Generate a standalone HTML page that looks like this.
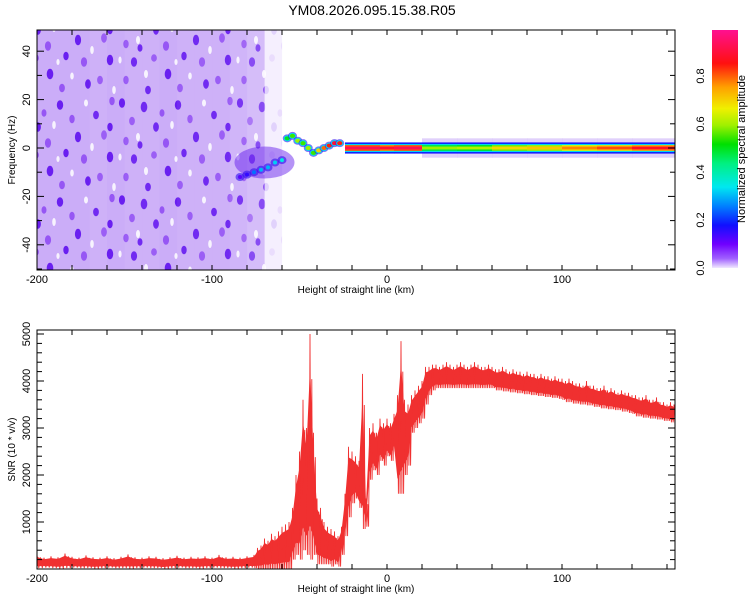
<!DOCTYPE html>
<html><head><meta charset="utf-8"><style>
body{margin:0;background:#fff;}
svg{display:block;font-family:"Liberation Sans",sans-serif;}
</style></head><body>
<svg id="fig" width="750" height="600" xmlns="http://www.w3.org/2000/svg">
<defs>
<pattern id="speck" patternUnits="userSpaceOnUse" width="118" height="97">
<rect width="118" height="97" fill="#cbadf8"/>
<g fill="#6a1ff0" stroke="#6a1ff0" stroke-width="1.4">
<ellipse cx="4" cy="6" rx="2.4" ry="4"/><ellipse cx="26" cy="10" rx="2.6" ry="4.5"/><ellipse cx="38" cy="30" rx="2.2" ry="4"/>
<ellipse cx="60" cy="8" rx="2.5" ry="4"/><ellipse cx="78" cy="40" rx="2.4" ry="4.5"/><ellipse cx="96" cy="18" rx="2.2" ry="3.5"/>
<ellipse cx="110" cy="60" rx="2.5" ry="4.5"/><ellipse cx="16" cy="62" rx="2.4" ry="4"/><ellipse cx="50" cy="74" rx="2.6" ry="4.5"/>
<ellipse cx="88" cy="84" rx="2.2" ry="4"/><ellipse cx="66" cy="56" rx="2" ry="3.5"/><ellipse cx="30" cy="90" rx="2.2" ry="3.5"/>
<ellipse cx="110" cy="30" rx="2" ry="3.5"/><ellipse cx="22" cy="48" rx="1.8" ry="3"/>
</g>
<g fill="#9656f4" stroke="#9656f4" stroke-width="1.4">
<ellipse cx="14" cy="24" rx="2.2" ry="3.5"/><ellipse cx="48" cy="46" rx="2.4" ry="4"/><ellipse cx="72" cy="22" rx="2" ry="3.5"/>
<ellipse cx="104" cy="38" rx="2.2" ry="4"/><ellipse cx="8" cy="44" rx="2" ry="3.5"/><ellipse cx="36" cy="58" rx="2.2" ry="3"/>
<ellipse cx="84" cy="62" rx="2.4" ry="4"/><ellipse cx="100" cy="80" rx="2.2" ry="3.5"/><ellipse cx="62" cy="88" rx="2.2" ry="3.5"/>
<ellipse cx="8" cy="80" rx="2" ry="3.5"/><ellipse cx="112" cy="4" rx="2" ry="3.5"/><ellipse cx="44" cy="16" rx="1.8" ry="3"/>
</g>
<g fill="#ffffff" opacity="0.85">
<ellipse cx="20" cy="40" rx="2" ry="4"/><ellipse cx="54" cy="28" rx="1.8" ry="4"/><ellipse cx="86" cy="6" rx="2" ry="3.5"/>
<ellipse cx="92" cy="50" rx="1.8" ry="4"/><ellipse cx="28" cy="74" rx="2" ry="4"/><ellipse cx="72" cy="76" rx="1.8" ry="3.5"/>
<ellipse cx="114" cy="90" rx="1.8" ry="4"/><ellipse cx="2" cy="60" rx="1.6" ry="3.5"/><ellipse cx="58" cy="62" rx="1.6" ry="3"/>
</g>
</pattern>
<linearGradient id="cmap" x1="0" y1="1" x2="0" y2="0">
<stop offset="0" stop-color="#f0e8ff"/><stop offset="0.04" stop-color="#a060ff"/>
<stop offset="0.1" stop-color="#7000ff"/><stop offset="0.18" stop-color="#1010ff"/>
<stop offset="0.26" stop-color="#0080ff"/><stop offset="0.34" stop-color="#00e8f0"/>
<stop offset="0.44" stop-color="#00f080"/><stop offset="0.52" stop-color="#00e000"/>
<stop offset="0.6" stop-color="#a0f000"/><stop offset="0.67" stop-color="#f0f000"/>
<stop offset="0.76" stop-color="#ffa000"/><stop offset="0.86" stop-color="#ff1010"/>
<stop offset="1" stop-color="#ff1090"/>
</linearGradient>
<clipPath id="c1"><rect x="37" y="30" width="638" height="240"/></clipPath>
<clipPath id="c2"><rect x="37" y="330" width="638" height="239"/></clipPath>
</defs>
<text x="372" y="15" font-size="14" text-anchor="middle">YM08.2026.095.15.38.R05</text>
<g id="topPlot" clip-path="url(#c1)"></g>
<g id="topAxes"></g>
<g id="botPlot" clip-path="url(#c2)"></g>
<g id="botAxes"></g>
<g id="cbar"></g>
</svg>
<script>
// ---------- data ----------
const noiseX = [-200,-190,-180,-170,-160,-150,-140,-130,-120,-110,-100,-90,-80,-70];
const noiseLevel = [1,1,1,0.95,1,0.95,0.95,1,0.95,0.95,0.95,0.9,0.8,0.2];
const ridgeX   = [-84,-80,-76,-72,-68,-64,-60,-57,-54,-51,-48,-45,-42,-39,-36,-33,-30,-27];
const ridgeF   = [-12,-11,-10,-9,-8,-6,-5,4,5,3,2,0,-2,-1,0,1,2,2];
const ridgeAmp = [0.12,0.15,0.25,0.3,0.3,0.32,0.35,0.5,0.55,0.6,0.55,0.6,0.55,0.7,0.8,0.85,0.9,0.85];
const bandX   = [-24,-4,4,20,40,60,80,100,120,140,165];
const bandAmp = [0.93,0.9,0.93,0.6,0.62,0.7,0.72,0.78,0.82,0.88,0.92];
// SNR: baseline (every 4 km from -200) then main (every 2 km from -74)
const snrBaseHi = [300,240,270,250,330,260,240,290,250,240,270,230,260,310,250,240,270,260,230,250,280,240,260,250,270,240,300,250,260,240,270,300];
const snrBaseLo = [20,30,20,10,20,30,20,20,10,20,30,20,20,10,20,30,20,20,10,20,30,20,20,10,20,30,20,20,10,20,30,20];
const snrMainHi = [450,500,650,600,750,700,800,900,950,1000,1300,2000,2500,3600,3000,5000,2900,1500,1300,1000,900,850,800,700,900,1600,2600,2500,2400,2300,4150,1500,3000,3100,2900,3200,3100,3200,3100,3300,3700,4850,3600,3500,3700,3800,3900,4000,4300,4300,4350,
4350,4300,4350,4400,4350,4300,4350,4400,4350,4300,4350,4400,4350,4300,4300,4350,4300,
4250,4250,4300,4250,4200,4250,4200,4200,4150,4200,4150,4150,4100,4150,4100,4100,4050,4100,4050,4050,
4000,4050,4000,3950,3950,3900,4000,3900,3900,3850,3850,3900,3800,3850,3800,3750,3800,3750,3750,3700,
3700,3650,3650,3700,3600,3600,3650,3550,3550,3500,3550,3500];
const snrMainLo = [0,0,0,0,0,0,0,0,0,0,200,300,200,400,300,200,300,100,100,100,100,50,100,50,300,700,1100,1400,1500,1300,850,900,1900,2100,2000,2300,2200,2400,2300,2500,1600,1600,2000,2200,2900,3000,3100,3200,3500,3700,3800,
3850,3850,3850,3850,3850,3850,3850,3850,3850,3850,3850,3850,3850,3850,3850,3850,3850,
3800,3800,3780,3780,3760,3760,3740,3740,3720,3720,3700,3700,3680,3680,3660,3660,3640,3640,3620,3600,
3550,3550,3520,3520,3500,3500,3480,3480,3450,3450,3420,3420,3400,3400,3380,3380,3350,3350,3320,3300,
3250,3250,3220,3220,3200,3200,3180,3180,3150,3150,3120,3100];
const snrX=[], snrHi=[], snrLo=[];
snrBaseHi.forEach((v,i)=>{snrX.push(-200+4*i);snrHi.push(v);snrLo.push(snrBaseLo[i]);});
snrMainHi.forEach((v,i)=>{snrX.push(-74+2*i);snrHi.push(v);snrLo.push(snrMainLo[i]);});
// ---------- helpers ----------
const NS="http://www.w3.org/2000/svg";
function mk(tag,attrs,parent){const e=document.createElementNS(NS,tag);for(const k in attrs)e.setAttribute(k,attrs[k]);parent.appendChild(e);return e;}
const X=v=>37+(v+200)*1.75;
const FY=f=>148-f*2.42;
const SY=s=>569-s*0.047;
function cmap(a){
  const st=[[0,[240,232,255]],[0.1,[112,0,255]],[0.18,[16,16,255]],[0.26,[0,128,255]],[0.34,[0,232,240]],[0.44,[0,240,128]],[0.52,[0,224,0]],[0.6,[160,240,0]],[0.67,[240,240,0]],[0.76,[255,160,0]],[0.86,[255,16,16]],[1,[255,16,144]]];
  for(let i=1;i<st.length;i++){if(a<=st[i][0]){const t=(a-st[i-1][0])/(st[i][0]-st[i-1][0]);const c=st[i-1][1].map((v,j)=>Math.round(v+(st[i][1][j]-v)*t));return 'rgb('+c.join(',')+')';}}
  return 'rgb(255,16,144)';
}
// ---------- top spectrogram ----------
const topG=document.getElementById('topPlot');
for(let i=0;i<noiseX.length;i++){
  const r=mk('rect',{x:X(noiseX[i]),y:30,width:17.6,height:240,fill:'url(#speck)',opacity:noiseLevel[i]},topG);
  
  
}
const cloud=mk('ellipse',{cx:X(-70),cy:FY(-6),rx:30,ry:16,fill:'#5a10ea',opacity:0.45},topG);


for(let i=0;i<bandX.length-1;i++){
  const x0=X(bandX[i]),w=X(bandX[i+1])-x0+0.5;
  if(bandX[i]>=20) mk('rect',{x:x0,y:FY(4),width:w,height:FY(-4)-FY(4),fill:'#d8c4fa',opacity:0.8},topG);
  mk('rect',{x:x0,y:FY(2.3),width:w,height:FY(-2.3)-FY(2.3),fill:'#1010ff'},topG);
  mk('rect',{x:x0,y:FY(1.7),width:w,height:FY(-1.7)-FY(1.7),fill:'#00d8f0'},topG);
  mk('rect',{x:x0,y:FY(1.2),width:w,height:FY(-1.2)-FY(1.2),fill:cmap(bandAmp[i]-0.12)},topG);
  const c=mk('rect',{x:x0,y:FY(0.6),width:w,height:FY(-0.6)-FY(0.6),fill:cmap(bandAmp[i])},topG);
  
  
}
for(let i=0;i<ridgeX.length;i++){
  const a=ridgeAmp[i],cx=X(ridgeX[i]),cy=FY(ridgeF[i]);
  mk('ellipse',{cx:cx,cy:cy,rx:4.5,ry:4,fill:'#3010f0',opacity:0.6},topG);
  if(a>0.4) mk('ellipse',{cx:cx,cy:cy,rx:3.6,ry:3,fill:'#00d8f0'},topG);
  const p=mk('ellipse',{cx:cx,cy:cy,rx:a>0.4?2.6:2,ry:2,fill:cmap(a)},topG);
  
  
}
// ---------- axes ----------
function axes(gid,yTop,yBot,yTicks,yLab,yMinor,yfun,ytitle,ytx){
  const g=document.getElementById(gid);
  const fr=mk('rect',{x:37,y:yTop,width:638,height:yBot-yTop,fill:'none',stroke:'#000','stroke-width':1},g);
  
  
  for(let v=-200;v<=160;v+=20){const x=X(v);
    mk('line',{x1:x,x2:x,y1:yBot,y2:yBot-5,stroke:'#000'},g);mk('line',{x1:x,x2:x,y1:yTop,y2:yTop+5,stroke:'#000'},g);}
  [-200,-100,0,100].forEach(v=>{const t=mk('text',{x:X(v),y:yBot+13,'font-size':11,'text-anchor':'middle'},g);t.textContent=v;
    });
  const xt=mk('text',{x:356,y:yBot+23,'font-size':10,'text-anchor':'middle'},g);xt.textContent='Height of straight line (km)';
  
  yMinor.forEach(v=>{const y=yfun(v);mk('line',{x1:37,x2:42,y1:y,y2:y,stroke:'#000'},g);mk('line',{x1:675,x2:670,y1:y,y2:y,stroke:'#000'},g);});
  yTicks.forEach((v,i)=>{const y=yfun(v);mk('line',{x1:37,x2:44,y1:y,y2:y,stroke:'#000'},g);mk('line',{x1:675,x2:668,y1:y,y2:y,stroke:'#000'},g);
    const t=mk('text',{x:30,y:y,'font-size':11,'text-anchor':'middle',transform:'rotate(-90 30 '+y+')'},g);t.textContent=yLab[i];
    });
  const yy=(yTop+yBot)/2;
  const ya=mk('text',{x:ytx,y:yy,'font-size':10,'text-anchor':'middle',transform:'rotate(-90 '+ytx+' '+yy+')'},g);ya.textContent=ytitle;
  
}
const fTicks=[-40,-20,0,20,40], fMinor=[-50,-30,-10,10,30];
axes('topAxes',30,270,fTicks,fTicks.map(String),fMinor,FY,'Frequency (Hz)',15);
const sTicks=[1000,2000,3000,4000,5000], sMinor=[];
for(let v=200;v<5000;v+=200) if(v%1000) sMinor.push(v);
axes('botAxes',330,569,sTicks,sTicks.map(String),sMinor,SY,'SNR (10 * v/v)',15);
// ---------- SNR ----------
const botG=document.getElementById('botPlot');
const pts=[];
for(let i=0;i<snrX.length;i++){
  const x=X(snrX[i]), step=(i+1<snrX.length?X(snrX[i+1])-x:3.5)/4;
  pts.push(x.toFixed(1)+','+SY(snrHi[i]).toFixed(1));
  pts.push((x+step).toFixed(1)+','+SY(snrLo[i]).toFixed(1));
  pts.push((x+2*step).toFixed(1)+','+SY((snrHi[i]*0.8+snrLo[i]*0.2)).toFixed(1));
  pts.push((x+3*step).toFixed(1)+','+SY(snrLo[i]).toFixed(1));
}
const area=[];
for(let i=0;i<snrX.length;i++) area.push(X(snrX[i]).toFixed(1)+','+SY(snrHi[i]*0.85+snrLo[i]*0.15).toFixed(1));
for(let i=snrX.length-1;i>=0;i--) area.push(X(snrX[i]).toFixed(1)+','+SY(snrLo[i]*0.85+snrHi[i]*0.15).toFixed(1));
const ar=mk('polygon',{points:area.join(' '),fill:'#f03030'},botG);


const ln=mk('polyline',{points:pts.join(' '),fill:'none',stroke:'#f03030','stroke-width':0.9},botG);


// ---------- colorbar ----------
const cb=document.getElementById('cbar');
const bar=mk('rect',{x:712,y:30,width:26,height:238,fill:'url(#cmap)'},cb);


const cbv=['0.0','0.2','0.4','0.6','0.8'];
cbv.forEach((s,i)=>{const y=268-i*0.2*240;const t=mk('text',{x:704,y:y,'font-size':11,'text-anchor':'middle',transform:'rotate(-90 704 '+y+')'},cb);t.textContent=s;
  });
const ct=mk('text',{x:745,y:149,'font-size':11,'text-anchor':'middle',transform:'rotate(-90 745 149)'},cb);ct.textContent='Normalized spectral amplitude';

</script>
</body></html>
